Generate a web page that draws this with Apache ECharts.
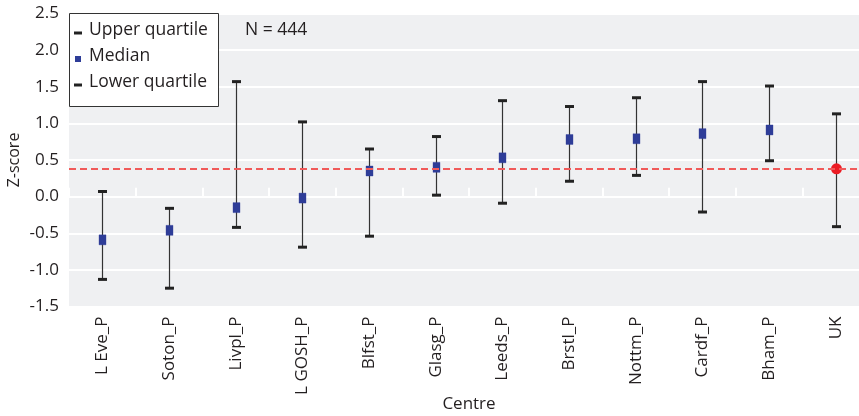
<!DOCTYPE html>
<html>
<head>
<meta charset="utf-8">
<script src="https://cdn.jsdelivr.net/npm/echarts@6/dist/echarts.min.js"></script>
<style>
  html, body { margin: 0; padding: 0; background: #ffffff; }
  #chart { width: 859px; height: 416px; }
</style>
</head>
<body>
<div id="chart"></div>
<script>
// Centres and their Z-score quartiles
const centres = ['L Eve_P', 'Soton_P', 'Livpl_P', 'L GOSH_P', 'Blfst_P', 'Glasg_P',
                 'Leeds_P', 'Brstl_P', 'Nottm_P', 'Cardf_P', 'Bham_P', 'UK'];
const upperQuartile = [0.07, -0.16, 1.57, 1.02, 0.65, 0.82, 1.31, 1.23, 1.35, 1.57, 1.51, 1.13];
const median        = [-0.59, -0.46, -0.15, -0.02, 0.35, 0.40, 0.53, 0.78, 0.79, 0.86, 0.91, 0.38];
const lowerQuartile = [-1.13, -1.25, -0.42, -0.69, -0.54, 0.02, -0.09, 0.21, 0.29, -0.21, 0.49, -0.41];
const ukMedian = 0.38;
const sampleSize = 444;
const yTicks = { min: -1.5, max: 2.5, step: 0.5 };

const FONT = '"Open Sans", "Noto Sans", sans-serif';
const TEXT = '#231f20';

const rows = centres.map((c, i) => [i, lowerQuartile[i], median[i], upperQuartile[i]]);

function renderItem(params, api) {
  const idx = api.value(0);
  const lo = api.coord([idx, api.value(1)]);
  const md = api.coord([idx, api.value(2)]);
  const hi = api.coord([idx, api.value(3)]);
  const x = Math.round(lo[0]) + 0.5;
  const capW = 9, capH = 3;
  const children = [
    { type: 'line', shape: { x1: x, y1: hi[1], x2: x, y2: lo[1] },
      style: { stroke: '#333333', lineWidth: 1.2 } },
    { type: 'rect', shape: { x: x - capW / 2, y: hi[1] - capH / 2, width: capW, height: capH },
      style: { fill: '#222222' } },
    { type: 'rect', shape: { x: x - capW / 2, y: lo[1] - capH / 2, width: capW, height: capH },
      style: { fill: '#222222' } }
  ];
  if (centres[idx] === 'UK') {
    children.push({ type: 'circle', shape: { cx: x, cy: md[1], r: 5.5 },
      style: { fill: '#ec1c24' } });
  } else {
    children.push({ type: 'rect', shape: { x: x - 3.5, y: md[1] - 5, width: 7, height: 10 },
      style: { fill: '#2e3d98', stroke: 'rgba(46,61,152,0.35)', lineWidth: 1 } });
  }
  return { type: 'group', children };
}

const chart = echarts.init(document.getElementById('chart'), null, { renderer: 'canvas' });
chart.setOption({
  animation: false,
  backgroundColor: '#ffffff',
  grid: {
    left: 69, right: -10, top: 13.5, bottom: 109.5,
    outerBoundsMode: 'none',
    containLabel: false,
    show: true, backgroundColor: '#eff0f2', borderWidth: 0
  },
  xAxis: {
    type: 'category',
    data: centres,
    name: 'Centre',
    nameLocation: 'middle',
    nameMoveOverlap: false,
    nameGap: 89,
    nameTextStyle: { fontFamily: FONT, fontSize: 17, color: TEXT },
    axisLine: { show: false },
    axisTick: { show: true, inside: true, length: 9, lineStyle: { color: '#ffffff', width: 2 } },
    axisLabel: { rotate: 90, margin: 10, fontFamily: FONT, fontSize: 17, color: TEXT },
    splitLine: { show: false }
  },
  yAxis: {
    type: 'value',
    min: yTicks.min, max: yTicks.max, interval: yTicks.step,
    name: 'Z-score',
    nameLocation: 'middle',
    nameMoveOverlap: false,
    nameRotate: 90,
    nameGap: 47,
    nameTextStyle: { fontFamily: FONT, fontSize: 16, color: TEXT },
    axisLine: { show: false },
    axisTick: { show: false },
    axisLabel: { margin: 10, fontFamily: FONT, fontSize: 17, color: TEXT,
      formatter: v => v.toFixed(1) },
    splitLine: { show: true, lineStyle: { color: '#ffffff', width: 2 } }
  },
  series: [
    {
      type: 'custom',
      name: 'Quartiles',
      renderItem,
      encode: { x: 0, y: [1, 2, 3] },
      data: rows,
      z: 3,
      markLine: {
        silent: true,
        symbol: 'none',
        label: { show: false },
        lineStyle: { color: '#f05a5a', width: 2, type: [7, 4] },
        data: [{ yAxis: ukMedian }]
      }
    }
  ],
  graphic: [
    { type: 'rect', left: 69, top: 13, shape: { width: 149, height: 93 },
      style: { fill: '#ffffff', stroke: '#333333', lineWidth: 1 }, z: 10 },
    { type: 'rect', left: 74, top: 31.5, shape: { width: 8, height: 3 }, style: { fill: '#222222' }, z: 11 },
    { type: 'text', left: 89, top: 21, style: { text: 'Upper quartile', font: '17.5px ' + FONT, fill: TEXT }, z: 11 },
    { type: 'rect', left: 75, top: 56, shape: { width: 6, height: 6 }, style: { fill: '#2e3d98' }, z: 11 },
    { type: 'text', left: 89, top: 47, style: { text: 'Median', font: '17.5px ' + FONT, fill: TEXT }, z: 11 },
    { type: 'rect', left: 74, top: 83.5, shape: { width: 8, height: 3 }, style: { fill: '#222222' }, z: 11 },
    { type: 'text', left: 89, top: 73, style: { text: 'Lower quartile', font: '17.5px ' + FONT, fill: TEXT }, z: 11 },
    { type: 'text', left: 245, top: 21, style: { text: 'N = ' + sampleSize, font: '17.5px ' + FONT, fill: TEXT }, z: 11 }
  ]
});
</script>
</body>
</html>
